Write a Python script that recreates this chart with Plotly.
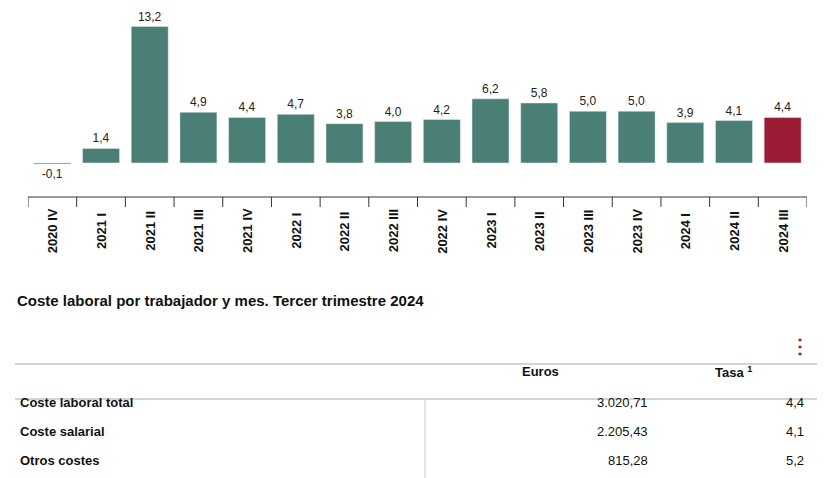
import plotly.graph_objects as go

categories = ["2020 IV","2021 I","2021 II","2021 III","2021 IV","2022 I","2022 II","2022 III","2022 IV","2023 I","2023 II","2023 III","2023 IV","2024 I","2024 II","2024 III"]
values = [-0.1,1.4,13.2,4.9,4.4,4.7,3.8,4.0,4.2,6.2,5.8,5.0,5.0,3.9,4.1,4.4]
row_labels = ["Coste laboral total","Coste salarial","Otros costes"]
euros = ["3.020,71","2.205,43","815,28"]
tasa = ["4,4","4,1","5,2"]

W, H = 829, 478
OFF = 8
def py(p): return 1 - (p - OFF) / H
def px(p): return (p - OFF) / W

colors = ["#4a7f75"] * (len(values) - 1) + ["#9b1b35"]
fmt = lambda v: f"{v:.1f}".replace(".", ",")
fig = go.Figure(go.Bar(x=list(range(len(values))), y=values, marker_color=colors, width=0.76,
                       text=[fmt(v) for v in values], textposition="outside",
                       textfont=dict(size=12, color="#222"), cliponaxis=False, hoverinfo="skip"))

font = "Arial, Liberation Sans, sans-serif"
fig.update_layout(width=W, height=H, margin=dict(l=0, r=0, t=0, b=0), showlegend=False,
                  plot_bgcolor="white", paper_bgcolor="white", font=dict(family=font, color="#111"),
                  xaxis=dict(domain=[px(28), px(807)], range=[-0.5, 15.5], visible=False),
                  yaxis=dict(domain=[py(166), py(11)], range=[-0.3, 14.7], visible=False))

shapes = [dict(type="line", xref="paper", yref="paper", x0=px(28), x1=px(807), y0=py(197), y1=py(197), line=dict(color="#333", width=1))]
for i in range(len(categories) + 1):
    shapes.append(dict(type="line", xref="x", yref="paper", x0=i - 0.5, x1=i - 0.5, y0=py(197), y1=py(207), line=dict(color="#333", width=1)))
ann = []
for i, c in enumerate(categories):
    ann.append(dict(x=i, xref="x", y=py(231), yref="paper", text=f"<b>{c}</b>", showarrow=False, textangle=-90,
                    font=dict(size=13, color="#111", family=font), xanchor="center", yanchor="middle"))

ann.append(dict(x=px(15), y=py(300), xref="paper", yref="paper", text="<b>Coste laboral por trabajador y mes. Tercer trimestre 2024</b>",
                showarrow=False, xanchor="left", yanchor="middle", font=dict(size=15, color="#111")))
ann.append(dict(x=px(800), y=py(346), xref="paper", yref="paper", text="<b>⋮</b>", showarrow=False,
                font=dict(size=20, color="#9b1b35"), xanchor="center", yanchor="middle"))
shapes += [
    dict(type="line", xref="paper", yref="paper", x0=px(15), x1=px(817), y0=py(364), y1=py(364), line=dict(color="#aaa", width=1)),
    dict(type="line", xref="paper", yref="paper", x0=px(15), x1=px(817), y0=py(399), y1=py(399), line=dict(color="#aaa", width=1)),
    dict(type="line", xref="paper", yref="paper", x0=px(425), x1=px(425), y0=py(399), y1=0, line=dict(color="#ccc", width=1)),
]
ann.append(dict(x=px(540), y=py(381), xref="paper", yref="paper", text="<b>Euros</b>", showarrow=False, xanchor="center", font=dict(size=13)))
ann.append(dict(x=px(733), y=py(382), xref="paper", yref="paper", text="<b>Tasa <sup>1</sup></b>", showarrow=False, xanchor="center", font=dict(size=13)))
for k, (lab, e, t) in enumerate(zip(row_labels, euros, tasa)):
    yy = py(412 + 29 * k)
    ann.append(dict(x=px(18), y=yy, xref="paper", yref="paper", text=f"<b>{lab}</b>", showarrow=False, xanchor="left", font=dict(size=13)))
    ann.append(dict(x=px(650), y=yy, xref="paper", yref="paper", text=e, showarrow=False, xanchor="right", font=dict(size=13)))
    ann.append(dict(x=px(806), y=yy, xref="paper", yref="paper", text=t, showarrow=False, xanchor="right", font=dict(size=13)))

fig.update_layout(shapes=shapes, annotations=ann)
fig.write_html("out.html")
